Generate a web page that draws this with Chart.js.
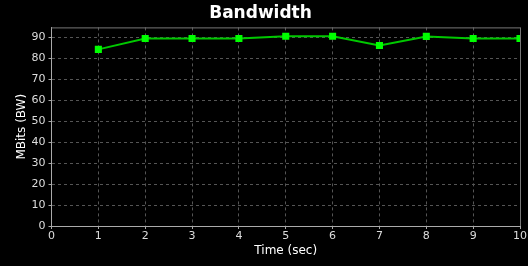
<!DOCTYPE html>
<html>
<head>
<meta charset="utf-8">
<script src="https://cdn.jsdelivr.net/npm/chart.js@4/dist/chart.umd.min.js"></script>
<style>
  html, body { margin: 0; padding: 0; background: #000; }
  #wrap { width: 528px; height: 266px; }
</style>
</head>
<body>
<div id="wrap"><canvas id="bw"></canvas></div>
<script>
// bandwidth samples, one per second
const times = [1, 2, 3, 4, 5, 6, 7, 8, 9, 10];
const mbits = [84.3, 89.5, 89.5, 89.5, 90.6, 90.6, 86.2, 90.5, 89.5, 89.5];
const xTicks = [0, 1, 2, 3, 4, 5, 6, 7, 8, 9, 10];
const yTicks = [0, 10, 20, 30, 40, 50, 60, 70, 80, 90];

const bgAndFrame = {
  id: 'bgAndFrame',
  beforeDraw(chart) {
    const c = chart.ctx;
    c.save();
    c.fillStyle = '#000';
    c.fillRect(0, 0, chart.width, chart.height);
    c.restore();
  },
  afterDraw(chart) {
    const a = chart.chartArea, c = chart.ctx;
    c.save();
    c.strokeStyle = '#777';
    c.lineWidth = 1;
    c.beginPath();
    c.moveTo(a.left, a.top + 0.5);
    c.lineTo(a.right + 0.5, a.top + 0.5);
    c.lineTo(a.right + 0.5, a.bottom);
    c.stroke();
    c.restore();
  }
};

const keep = list => scale => {
  scale.ticks = list.map(v => ({ value: v }));
};

new Chart(document.getElementById('bw').getContext('2d'), {
  type: 'line',
  data: {
    datasets: [{
      data: times.map((t, i) => ({ x: t, y: mbits[i] })),
      borderColor: '#00c800',
      borderWidth: 2,
      pointStyle: 'rect',
      pointRadius: 5,
      pointBorderWidth: 0,
      pointBackgroundColor: '#00ff00',
      tension: 0
    }]
  },
  options: {
    responsive: true,
    maintainAspectRatio: false,
    animation: false,
    layout: { padding: { left: 0, right: 7, top: 0, bottom: 0 } },
    plugins: {
      legend: { display: false },
      tooltip: { enabled: false },
      title: {
        display: true,
        text: 'Bandwidth',
        color: '#fff',
        font: { family: 'DejaVu Sans', size: 17, weight: 'bold' },
        padding: { top: 3, bottom: 4 }
      }
    },
    scales: {
      x: {
        type: 'linear',
        min: 0, max: 10,
        afterBuildTicks: keep(xTicks),
        afterFit(s) { s.height = 40; },
        grid: { color: '#555', tickColor: '#aaa', tickLength: 3, tickBorderDash: [] },
        border: { color: '#aaa', dash: [3, 3] },
        ticks: { color: '#ddd', padding: 1, maxRotation: 0, font: { family: 'DejaVu Sans', size: 11 } },
        title: {
          display: true, text: 'Time (sec)', color: '#fff',
          font: { family: 'DejaVu Sans', size: 12 },
          padding: { top: 0, bottom: 8 }
        }
      },
      y: {
        min: 0, max: 94.8,
        afterBuildTicks: keep(yTicks),
        afterFit(s) { s.width = 51.5; },
        grid: { color: '#555', tickColor: '#aaa', tickLength: 3, tickBorderDash: [] },
        border: { color: '#aaa', dash: [3, 3] },
        ticks: { color: '#ddd', padding: 3, font: { family: 'DejaVu Sans', size: 11 } },
        title: {
          display: true, text: 'MBits (BW)', color: '#fff',
          font: { family: 'DejaVu Sans', size: 12 },
          padding: { top: 15, bottom: 0 }
        }
      }
    }
  },
  plugins: [bgAndFrame]
});
</script>
</body>
</html>
